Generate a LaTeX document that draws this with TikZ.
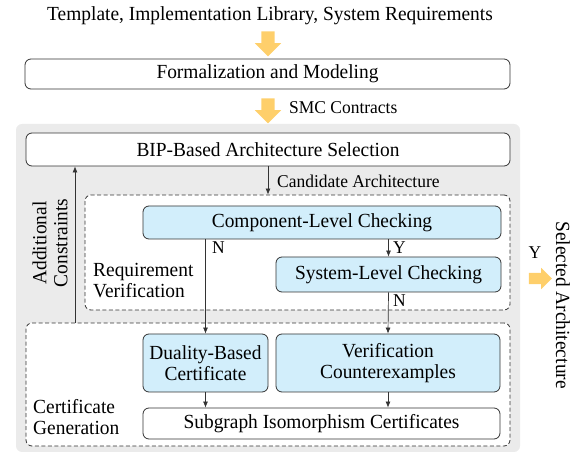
\documentclass[tikz,border=0pt]{standalone}
\usepackage{fontspec}
\setmainfont{Liberation Serif}[FakeStretch=0.97]
\usetikzlibrary{arrows.meta,shapes.arrows}

\newlength{\du}
\setlength{\du}{1pt}

\tikzset{
  blockbox/.style={draw=boxline, line width=0.8\du, rounded corners=6\du, inner sep=0pt, fill=white, align=center},
  checkbox/.style={blockbox, fill=checkblue},
  groupbox/.style={draw=boxline, line width=0.8\du, dash pattern=on 4\du off 2.5\du, rounded corners=6\du, inner sep=0pt},
  flowarrow/.style={-{Latex[length=6pt,width=5pt]}, line width=0.7\du, draw=boxline},
  fatarrow/.style={single arrow, fill=arrowyellow, draw=none, inner sep=6.5\du, single arrow head extend=6.5\du, minimum height=25\du},
  smalllabel/.style={font=\fontsize{18}{20}\selectfont, inner sep=0pt},
}

\begin{document}
\begin{tikzpicture}[font=\fontsize{20}{21}\selectfont]
\pgftransformxscale{1.000000}
\pgftransformyscale{-1.000000}
\definecolor{boxline}{rgb}{0.200000, 0.200000, 0.200000}
\definecolor{checkblue}{rgb}{0.824000, 0.933000, 0.984000}
\definecolor{groupgray}{rgb}{0.922000, 0.922000, 0.922000}
\definecolor{arrowyellow}{rgb}{0.996000, 0.812000, 0.420000}
\useasboundingbox (0\du,0\du) rectangle (579\du,454\du);
% inputs and modeling
\node[inner sep=0pt] (inputs) at (270\du,16\du){Template, Implementation Library, System Requirements};
\node[fatarrow, rotate=-90] (inarrow) at (268\du,40.5\du){};
\node[blockbox, minimum width=485\du, minimum height=30\du] (formal) at (267.5\du,74\du){Formalization and Modeling};
\node[fatarrow, rotate=-90] (smcarrow) at (268\du,107.5\du){};
\node[smalllabel, anchor=west] (smc) at (289\du,108\du){SMC Contracts};
% synthesis loop
\fill[groupgray, rounded corners=6\du] (16\du,124\du) rectangle (520\du,452\du);
\node[blockbox, minimum width=484\du, minimum height=33\du] (bip) at (268\du,149.5\du){BIP-Based Architecture Selection};
\node[groupbox, minimum width=425\du, minimum height=115\du, fill=white] (verif) at (297.5\du,252.5\du){};
\node[groupbox, minimum width=484\du, minimum height=123\du, fill=white] (cert) at (268\du,384.5\du){};
\node[checkbox, minimum width=358\du, minimum height=33\du] (comp) at (322\du,222.5\du){Component-Level Checking};
\node[checkbox, minimum width=225\du, minimum height=35\du] (sys) at (388.5\du,274.5\du){System-Level Checking};
\node[checkbox, minimum width=125\du, minimum height=58\du] (dual) at (205.5\du,363\du){Duality-Based\\Certificate};
\node[checkbox, minimum width=224\du, minimum height=58\du] (cex) at (388\du,363\du){Verification\\Counterexamples};
\node[blockbox, minimum width=357\du, minimum height=31\du] (subg) at (321.5\du,423.5\du){Subgraph Isomorphism Certificates};
\node[anchor=west, align=left, inner sep=0pt] (reqlbl) at (93\du,281\du){Requirement\\Verification};
\node[anchor=west, align=left, inner sep=0pt] (certlbl) at (33\du,417\du){Certificate\\Generation};
\node[rotate=90, align=center, inner sep=0pt] (addlbl) at (50\du,243\du){Additional\\Constraints};
% connectors
\coordinate (upx) at (75\du,0\du);
\draw[flowarrow] (bip.south) -- (bip.south |- verif.north);
\node[smalllabel, anchor=west] (cand) at (277\du,181\du){Candidate Architecture};
\draw[flowarrow] (dual.north |- comp.south) -- (dual.north);
\node[smalllabel, anchor=west] (nocomp) at (212\du,248\du){N};
\draw[flowarrow] (sys.north |- comp.south) -- (sys.north);
\node[smalllabel, anchor=west] (yescomp) at (393\du,248\du){Y};
\draw[flowarrow] (sys.south) -- (cex.north);
\node[smalllabel, anchor=west] (nosys) at (393\du,301\du){N};
\draw[flowarrow] (dual.south) -- (dual.south |- subg.north);
\draw[flowarrow] (cex.south) -- (cex.south |- subg.north);
\draw[flowarrow] (cert.north -| upx) -- (bip.south -| upx);
% output
\node[smalllabel] (yessel) at (535\du,253\du){Y};
\node[fatarrow, inner sep=5.5\du, single arrow head extend=5\du, minimum height=23\du] (outarrow) at (537.5\du,278.5\du){};
\node[rotate=-90, inner sep=0pt] (selected) at (563\du,305\du){Selected Architecture};
\end{tikzpicture}
\end{document}
